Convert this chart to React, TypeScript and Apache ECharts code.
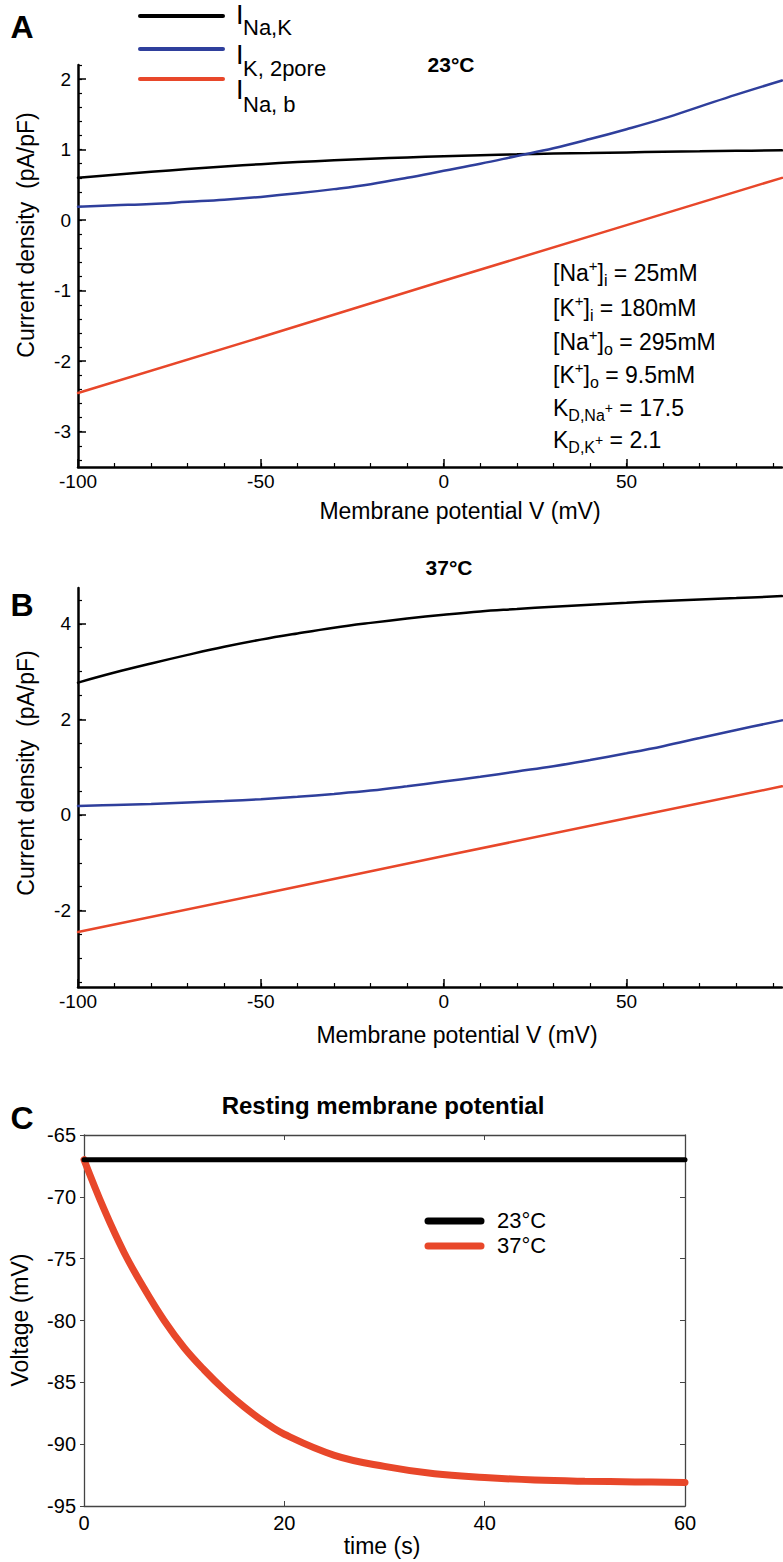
import React, { useEffect, useRef } from "react";
import * as echarts from "echarts";

// ---------- data ----------
const V_MV = [-100, -90, -80, -70, -60, -50, -40, -30, -20, -10, 0, 10, 20, 30, 40, 50, 60, 70, 80, 92.5];
const I_NAK_23 = [0.6, 0.645, 0.686, 0.725, 0.762, 0.794, 0.823, 0.849, 0.87, 0.89, 0.907, 0.922, 0.933, 0.944, 0.952, 0.961, 0.97, 0.976, 0.983, 0.991];
const I_NAK_37 = [2.77, 2.98, 3.17, 3.35, 3.52, 3.67, 3.8, 3.92, 4.02, 4.11, 4.19, 4.26, 4.31, 4.36, 4.4, 4.44, 4.48, 4.51, 4.54, 4.58];
const I_K2P = [0.19, 0.21, 0.23, 0.26, 0.29, 0.33, 0.38, 0.44, 0.51, 0.6, 0.7, 0.8, 0.91, 1.02, 1.15, 1.29, 1.44, 1.61, 1.78, 1.98];
const V_NAB = [-100, -50, 0, 50, 92.5];
const I_NAB = [-2.45, -1.66, -0.86, -0.07, 0.6];

const T_S = [0, 2, 4, 6, 8, 10, 12, 14, 16, 18, 20, 25, 30, 35, 40, 45, 50, 55, 60];
const VM_37 = [-67.0, -71.0, -74.5, -77.4, -80.0, -82.2, -84.0, -85.6, -87.0, -88.2, -89.2, -90.9, -91.8, -92.4, -92.7, -92.9, -93.0, -93.05, -93.1];
const T_23 = [0, 60];
const VM_23 = [-67, -67];

const A_X_TICKS = [-100, -50, 0, 50];
const A_Y_TICKS = [-3, -2, -1, 0, 1, 2];
const B_Y_TICKS = [-2, 0, 2, 4];

const BLACK = "#000000";
const BLUE = "#2f3f9c";
const RED = "#e8472a";
const FONT = "'Liberation Sans', Arial, Helvetica, sans-serif";

function range(a: number, b: number, step: number): number[] {
  const out: number[] = [];
  for (let v = a; v <= b + 1e-9; v += step) out.push(Math.round(v * 1000) / 1000);
  return out;
}
const zip = (xs: number[], ys: number[]) => xs.map((x, i) => [x, ys[i]]);

export default function App() {
  const ref = useRef<HTMLDivElement>(null);
  useEffect(() => {
    document.body.style.margin = "0";
    const chart = echarts.init(ref.current!, undefined, { renderer: "svg" });

    const majorX = (grid: number, ticks: number[]) => ({
      type: "value", gridIndex: grid, min: -100, max: 92.5, position: "bottom",
      axisLine: { onZero: false, lineStyle: { color: BLACK, width: 2.5 } },
      axisTick: { inside: true, length: 8, customValues: ticks, lineStyle: { color: BLACK, width: 1.5 } },
      axisLabel: { customValues: ticks, fontSize: 19, margin: 5, color: BLACK, fontFamily: FONT },
      splitLine: { show: false },
    });
    const minorX = (grid: number) => ({
      type: "value", gridIndex: grid, min: -100, max: 92.5, position: "bottom",
      axisLine: { show: false, onZero: false },
      axisTick: { inside: true, length: 4, customValues: range(-90, 90, 10), lineStyle: { color: BLACK, width: 1.2 } },
      axisLabel: { show: false },
      splitLine: { show: false },
    });
    const majorY = (grid: number, min: number, max: number, ticks: number[]) => ({
      type: "value", gridIndex: grid, min, max, position: "left",
      axisLine: { onZero: false, lineStyle: { color: BLACK, width: 2.5 } },
      axisTick: { inside: true, length: 8, customValues: ticks, lineStyle: { color: BLACK, width: 1.5 } },
      axisLabel: { customValues: ticks, fontSize: 19, margin: 7, color: BLACK, fontFamily: FONT },
      splitLine: { show: false },
    });
    const minorY = (grid: number, min: number, max: number, ticks: number[]) => ({
      type: "value", gridIndex: grid, min, max, position: "left",
      axisLine: { show: false, onZero: false },
      axisTick: { inside: true, length: 4, customValues: ticks, lineStyle: { color: BLACK, width: 1.2 } },
      axisLabel: { show: false },
      splitLine: { show: false },
    });

    const boxLine = { onZero: false, lineStyle: { color: "#444", width: 1.3 } };

    const txt = (x: number, y: number, text: string, size: number, opts: any = {}) => ({
      type: "text", x, y, rotation: opts.rotation || 0,
      style: {
        text, fontSize: size, fontFamily: FONT, fontWeight: opts.bold ? "bold" : "normal",
        fill: BLACK, align: opts.align || "center", verticalAlign: "middle",
      },
    });
    const legLine = (x1: number, x2: number, y: number, color: string, w: number) => ({
      type: "line", shape: { x1, y1: y, x2, y2: y }, style: { stroke: color, lineWidth: w, lineCap: "round" },
    });

    const richStyles = {
      sup: { fontSize: 15, fontFamily: FONT, fill: BLACK, verticalAlign: "top", lineHeight: 18 },
      sub: { fontSize: 16, fontFamily: FONT, fill: BLACK, verticalAlign: "bottom", lineHeight: 14 },
      ss: { fontSize: 14, fontFamily: FONT, fill: BLACK, verticalAlign: "middle", lineHeight: 14 },
    };
    const annot = [
      "[Na{sup|+}]{sub|i} = 25mM",
      "[K{sup|+}]{sub|i} = 180mM",
      "[Na{sup|+}]{sub|o} = 295mM",
      "[K{sup|+}]{sub|o} = 9.5mM",
      "K{sub|D,Na}{ss|+} = 17.5",
      "K{sub|D,K}{ss|+} = 2.1",
    ];
    const annotY = [273, 308, 342, 375, 408, 440];
    const annotEls = annot.map((t, i) => ({
      type: "text", x: 553, y: annotY[i],
      style: {
        text: t, fontSize: 23, fontFamily: FONT, fill: BLACK, lineHeight: 30,
        align: "left", verticalAlign: "middle", rich: richStyles,
      },
    }));

    const graphic: any[] = [
      // panel A
      txt(22, 27, "A", 32, { bold: true }),
      txt(451, 64, "23°C", 21, { bold: true }),
      legLine(140, 223, 16, BLACK, 4),
      legLine(140, 223, 49, BLUE, 4),
      legLine(140, 223, 79, RED, 4),
      txt(236, 15, "I", 27, { align: "left" }),
      txt(243, 27, "Na,K", 22, { align: "left" }),
      txt(236, 55, "I", 27, { align: "left" }),
      txt(243, 68, "K, 2pore", 22, { align: "left" }),
      txt(236, 90, "I", 27, { align: "left" }),
      txt(243, 104, "Na, b", 22, { align: "left" }),
      ...annotEls,
      txt(26, 235, "Current density  (pA/pF)", 23, { rotation: Math.PI / 2 }),
      txt(460, 511, "Membrane potential V (mV)", 23),
      // panel B
      txt(22, 605, "B", 32, { bold: true }),
      txt(449, 567, "37°C", 21, { bold: true }),
      txt(26, 773, "Current density  (pA/pF)", 23, { rotation: Math.PI / 2 }),
      txt(457, 1035, "Membrane potential V (mV)", 23),
      // panel C
      txt(22, 1118, "C", 32, { bold: true }),
      txt(383, 1105, "Resting membrane potential", 24, { bold: true }),
      txt(20, 1320, "Voltage (mV)", 23, { rotation: Math.PI / 2 }),
      txt(382, 1546, "time (s)", 23),
      legLine(428, 481, 1221, BLACK, 7),
      legLine(428, 481, 1246, RED, 7),
      txt(497, 1220, "23°C", 22, { align: "left" }),
      txt(497, 1245, "37°C", 22, { align: "left" }),
    ];

    const line = (xi: number, yi: number, data: number[][], color: string, width: number, smooth: any = 0.4) => ({
      type: "line", xAxisIndex: xi, yAxisIndex: yi, data, showSymbol: false, smooth,
      lineStyle: { color, width, cap: "round" }, itemStyle: { color }, silent: true,
    });

    chart.setOption({
      animation: false,
      backgroundColor: "#ffffff",
      textStyle: { fontFamily: FONT },
      grid: [
        { left: 78, top: 65, width: 704, height: 402 },
        { left: 78, top: 588, width: 704, height: 399 },
        { left: 84, top: 1135, width: 601, height: 371 },
      ],
      xAxis: [
        majorX(0, A_X_TICKS),
        minorX(0),
        majorX(1, A_X_TICKS),
        minorX(1),
        {
          type: "value", gridIndex: 2, min: 0, max: 60, interval: 20, position: "bottom",
          axisLine: boxLine,
          axisTick: { inside: true, length: 5, lineStyle: { color: "#444" } },
          axisLabel: { fontSize: 20, margin: 7, color: BLACK, fontFamily: FONT },
          splitLine: { show: false },
        },
        {
          type: "value", gridIndex: 2, min: 0, max: 60, interval: 20, position: "top",
          axisLine: boxLine,
          axisTick: { inside: true, length: 5, lineStyle: { color: "#444" } },
          axisLabel: { show: false },
          splitLine: { show: false },
        },
      ],
      yAxis: [
        majorY(0, -3.5, 2.2, A_Y_TICKS),
        minorY(0, -3.5, 2.2, range(-3.4, 2.2, 0.2)),
        majorY(1, -3.6, 4.75, B_Y_TICKS),
        minorY(1, -3.6, 4.75, range(-3.5, 4.5, 0.5)),
        {
          type: "value", gridIndex: 2, min: -95, max: -65, interval: 5, position: "left",
          axisLine: boxLine,
          axisTick: { inside: false, length: 4, lineStyle: { color: "#444" } },
          axisLabel: { fontSize: 20, margin: 8, color: BLACK, fontFamily: FONT },
          splitLine: { show: false },
        },
        {
          type: "value", gridIndex: 2, min: -95, max: -65, interval: 5, position: "right",
          axisLine: boxLine,
          axisTick: { inside: true, length: 5, lineStyle: { color: "#444" } },
          axisLabel: { show: false },
          splitLine: { show: false },
        },
      ],
      series: [
        line(0, 0, zip(V_MV, I_NAK_23), BLACK, 2.5),
        line(0, 0, zip(V_MV, I_K2P), BLUE, 2.5),
        line(0, 0, zip(V_NAB, I_NAB), RED, 2.5, false),
        line(2, 2, zip(V_MV, I_NAK_37), BLACK, 2.5),
        line(2, 2, zip(V_MV, I_K2P), BLUE, 2.5),
        line(2, 2, zip(V_NAB, I_NAB), RED, 2.5, false),
        line(4, 4, zip(T_S, VM_37), RED, 7),
        line(4, 4, zip(T_23, VM_23), BLACK, 5, false),
      ],
      graphic,
    });
    return () => chart.dispose();
  }, []);
  return <div ref={ref} style={{ width: 783, height: 1562 }} />;
}
